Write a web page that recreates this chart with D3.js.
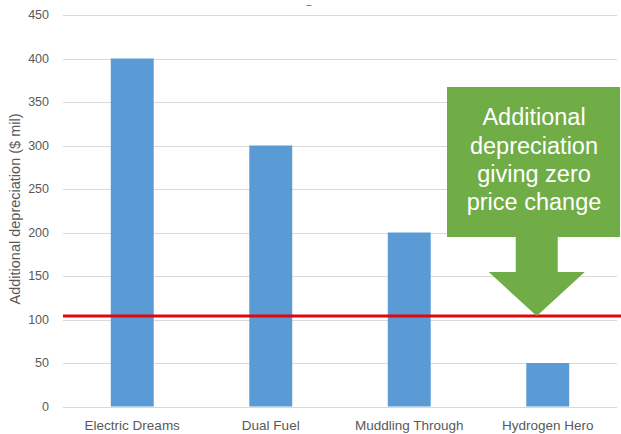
<!DOCTYPE html>
<html>
<head>
<meta charset="utf-8">
<script src="https://cdn.jsdelivr.net/npm/d3@7/dist/d3.min.js"></script>
<style>
  html, body { margin: 0; padding: 0; background: #fff; }
  svg { display: block; }
</style>
</head>
<body>
<script>
// Scenario names and the additional depreciation each one needs ($ mil)
const categories = ["Electric Dreams", "Dual Fuel", "Muddling Through", "Hydrogen Hero"];
const values = [400, 300, 200, 50];
const yTicks = [0, 50, 100, 150, 200, 250, 300, 350, 400, 450];
// Depreciation level that leaves the price unchanged
const threshold = 104;
const calloutLines = ["Additional", "depreciation", "giving zero", "price change"];

const W = 621, H = 434;
const svg = d3.select("body").append("svg").attr("width", W).attr("height", H);

const x = d3.scaleBand().domain(categories).range([63, 617]).paddingInner(0.69).paddingOuter(0.345);
const y = d3.scaleLinear().domain([0, 450]).range([406.5, 15]);

const font = "'Liberation Sans', Arial, sans-serif";
const grey = "#595959";

// horizontal gridlines
svg.append("g").selectAll("line").data(yTicks).join("line")
  .attr("x1", 63).attr("x2", 617)
  .attr("y1", d => Math.round(y(d)) + 0.5).attr("y2", d => Math.round(y(d)) + 0.5)
  .attr("stroke", "#d9d9d9").attr("stroke-width", 1);

// y tick labels
svg.append("g").selectAll("text").data(yTicks).join("text")
  .attr("x", 49).attr("y", d => y(d)).attr("dy", "0.35em")
  .attr("text-anchor", "end")
  .attr("font-family", font).attr("font-size", 12.5).attr("fill", grey)
  .text(d => d);

// y axis title
svg.append("text")
  .attr("transform", "translate(20,209) rotate(-90)")
  .attr("text-anchor", "middle")
  .attr("font-family", font).attr("font-size", 14.5).attr("fill", grey)
  .text("Additional depreciation ($ mil)");

// bars
svg.append("g").selectAll("rect").data(values).join("rect")
  .attr("x", (d, i) => x(categories[i]))
  .attr("width", x.bandwidth())
  .attr("y", d => y(d))
  .attr("height", d => y(0) - y(d))
  .attr("fill", "#5b9bd5");

// category labels
svg.append("g").selectAll("text").data(categories).join("text")
  .attr("x", d => x(d) + x.bandwidth() / 2).attr("y", 430)
  .attr("text-anchor", "middle")
  .attr("font-family", font).attr("font-size", 13.5).attr("fill", grey)
  .text(d => d);

// zero-price-change reference line
svg.append("line")
  .attr("x1", 63).attr("x2", W)
  .attr("y1", y(threshold)).attr("y2", y(threshold))
  .attr("stroke", "#e3060d").attr("stroke-width", 3);

// empty chart title placeholder mark
svg.append("text")
  .attr("x", 309).attr("y", 8)
  .attr("text-anchor", "middle")
  .attr("font-family", font).attr("font-size", 9).attr("fill", "#404040")
  .text("–");

// callout arrow pointing at the reference line
const tipX = x("Hydrogen Hero") + x.bandwidth() / 2 - 11;
const tipY = y(threshold);
const box = { left: 447, right: 620, top: 87, bottom: 237 };
const shaftHalf = 21, headHalf = 48, headLen = 44;
const arrowPts = [
  [box.left, box.top], [box.right, box.top], [box.right, box.bottom],
  [tipX + shaftHalf, box.bottom], [tipX + shaftHalf, tipY - headLen],
  [tipX + headHalf, tipY - headLen], [tipX, tipY],
  [tipX - headHalf, tipY - headLen], [tipX - shaftHalf, tipY - headLen],
  [tipX - shaftHalf, box.bottom], [box.left, box.bottom]
];
svg.append("path")
  .attr("d", d3.line()(arrowPts) + "Z")
  .attr("fill", "#70ad47");

svg.append("g").selectAll("text").data(calloutLines).join("text")
  .attr("x", 534).attr("y", (d, i) => 117 + i * 28.3).attr("dy", "0.35em")
  .attr("text-anchor", "middle")
  .attr("font-family", font).attr("font-size", 23.5).attr("fill", "#ffffff")
  .text(d => d);
</script>
</body>
</html>
